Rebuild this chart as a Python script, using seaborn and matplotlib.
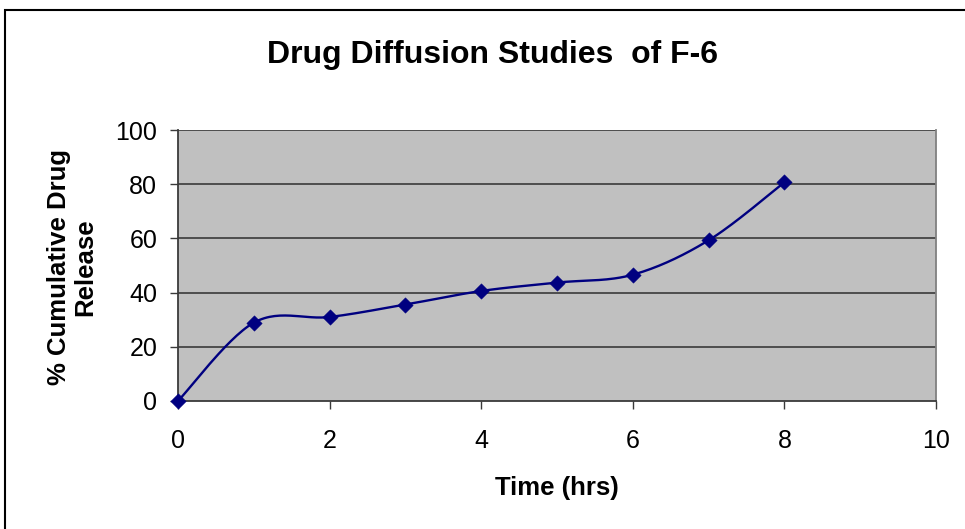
import numpy as np
import pandas as pd
import matplotlib
matplotlib.use("Agg")
import matplotlib.pyplot as plt
import seaborn as sns
from matplotlib.patches import Rectangle

# Release profile of formulation F-6
time_hrs = [0, 1, 2, 3, 4, 5, 6, 7, 8]
release_pct = [0.0, 28.9, 31.0, 35.6, 40.6, 43.7, 46.6, 59.3, 80.7]

x_ticks = [0, 2, 4, 6, 8, 10]
y_ticks = [0, 20, 40, 60, 80, 100]

TITLE = "Drug Diffusion Studies  of F-6"
XLABEL = "Time (hrs)"
YLABEL = "% Cumulative Drug\nRelease"

NAVY = "#000080"
GRID = "#3a3a3a"

sns.set_theme(style="white")
plt.rcParams["font.family"] = ["Liberation Sans", "DejaVu Sans"]

W, H = 965, 529
fig = plt.figure(figsize=(W / 100, H / 100), dpi=100)

# plot area in pixel coordinates
L, R, T, B = 178, 936, 130, 401
ax = fig.add_axes([L / W, 1 - B / H, (R - L) / W, (B - T) / H])
ax.set_facecolor("#C0C0C0")


def smooth_curve(xs, ys, sx, sy, n=30):
    """Cardinal (Catmull-Rom style) Bezier smoothing in screen-scaled space."""
    px = np.asarray(xs, float) * sx
    py = np.asarray(ys, float) * sy
    pts = np.column_stack([px, py])
    ext = np.vstack([pts[0], pts, pts[-1]])
    out = []
    t = np.linspace(0, 1, n)[:, None]
    for i in range(len(pts) - 1):
        p0, p1, p2, p3 = ext[i], ext[i + 1], ext[i + 2], ext[i + 3]
        c1 = p1 + (p2 - p0) / 6.0
        c2 = p2 - (p3 - p1) / 6.0
        seg = ((1 - t) ** 3) * p1 + 3 * ((1 - t) ** 2) * t * c1 + 3 * (1 - t) * t ** 2 * c2 + t ** 3 * p2
        out.append(seg if i == 0 else seg[1:])
    out = np.vstack(out)
    return out[:, 0] / sx, out[:, 1] / sy


sx = (R - L) / 10.0
sy = (B - T) / 100.0
cx, cy = smooth_curve(time_hrs, release_pct, sx, sy)
curve = pd.DataFrame({"t": cx, "r": cy, "order": np.arange(len(cx))})
points = pd.DataFrame({"t": time_hrs, "r": release_pct})

ax.set_xlim(0, 10)
ax.set_ylim(0, 100)
ax.set_yticks(y_ticks)
ax.set_xticks(x_ticks)
ax.grid(False)
for yv in y_ticks[1:]:
    ax.axhline(yv, color=GRID, lw=1.2, zorder=1)

sns.lineplot(data=curve, x="t", y="r", sort=False, estimator=None, color=NAVY,
             lw=1.7, ax=ax, zorder=3)
sns.scatterplot(data=points, x="t", y="r", marker="D", s=62, color=NAVY,
                edgecolor=NAVY, linewidth=0.3, ax=ax, zorder=4, clip_on=False)

ax.set_xlabel("")
ax.set_ylabel("")
ax.set_xticklabels([str(v) for v in x_ticks])
ax.set_yticklabels([str(v) for v in y_ticks])

for side in ["left", "bottom"]:
    ax.spines[side].set_color(GRID)
    ax.spines[side].set_linewidth(1.3)
ax.spines["right"].set_color("#808080")
ax.spines["right"].set_linewidth(1.3)
ax.spines["top"].set_visible(False)

ax.tick_params(axis="both", which="both", direction="out", length=6, width=1,
               color=GRID, labelsize=18, labelcolor="black", left=True, bottom=True)
ax.tick_params(axis="x", pad=14)
ax.tick_params(axis="y", pad=9)

fig.text(493 / W, 1 - 63 / H, TITLE, ha="center", va="baseline",
         fontsize=23, fontweight="bold", color="black")
fig.text(557 / W, 1 - 495 / H, XLABEL, ha="center", va="baseline",
         fontsize=18.5, fontweight="bold", color="black")
fig.text(72 / W, 1 - 267 / H, YLABEL, ha="center", va="center", rotation=90,
         multialignment="center", fontsize=18.5, fontweight="bold", color="black",
         linespacing=1.15)

# outer chart frame
fig.patches.append(Rectangle((5 / W, -0.2), 1.2, 1 - 10 / H + 0.2,
                             transform=fig.transFigure, fill=False,
                             edgecolor="black", lw=1.5))

fig.savefig("out.png", dpi=100, facecolor="white")
